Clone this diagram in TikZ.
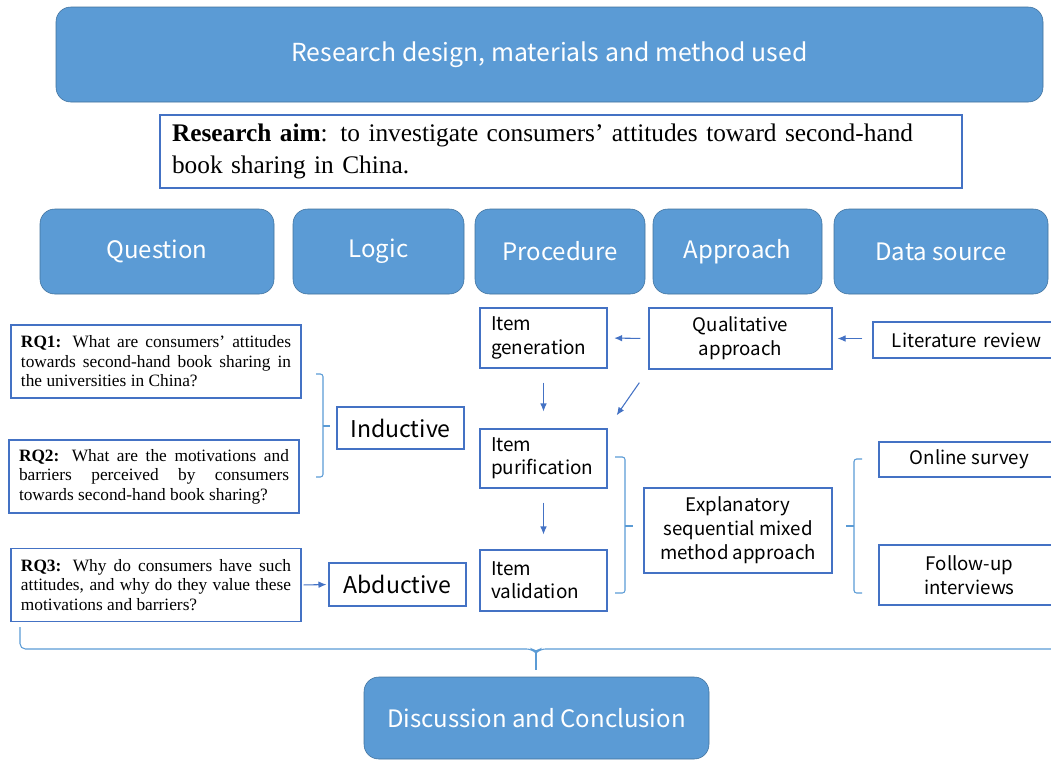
\documentclass[tikz,border=0pt]{standalone}
\usepackage{fontspec}
\setmainfont{Liberation Serif}
\newfontfamily\cnsans{Noto Sans CJK SC}
\usetikzlibrary{arrows.meta}

\definecolor{headfill}{HTML}{5B9BD5}
\definecolor{headline}{HTML}{41719C}
\definecolor{boxline}{HTML}{4472C4}
\newcommand{\pxu}{0.75pt}

\tikzset{
	head/.style={draw=headline, fill=headfill, rounded corners=11pt, text=white, inner sep=0pt,
		font=\cnsans\fontsize{18}{20}\selectfont},
	plain/.style={draw=boxline, fill=white, inner sep=0pt, line width=0.8pt},
	rq/.style={plain, minimum width=290*\pxu, minimum height=73*\pxu, text width=270*\pxu,
		align=justify, font=\fontsize{13}{14.6}\selectfont},
	item/.style={plain, minimum width=127*\pxu, text width=105*\pxu, align=left,
		font=\cnsans\fontsize{14.2}{17.5}\selectfont},
	side/.style={plain, align=center, font=\cnsans\fontsize{14}{18}\selectfont},
	logic/.style={plain, font=\cnsans\fontsize{17.3}{20}\selectfont},
	flow/.style={draw=boxline, line width=0.8pt, -{Latex[length=6pt,width=5pt]}},
	brack/.style={draw=headfill, line width=0.8pt, rounded corners=2pt}
}

\begin{document}
\begin{tikzpicture}[x=0.75pt, y=-0.75pt]
	\useasboundingbox (0,0) rectangle (1051,761);

	% title and aim
	\node[head, minimum width=987*\pxu, minimum height=95*\pxu, font=\cnsans\fontsize{18.6}{20}\selectfont] (design) at (549.5,54.5) {Research design, materials and method used};
	\node[plain, minimum width=802*\pxu, minimum height=73*\pxu, text width=778*\pxu, align=left,
		font=\fontsize{19}{24}\selectfont] (aim) at (561,151.5)
		{\textbf{Research aim}: to investigate consumers’ attitudes toward second-hand\\book sharing in China.};

	% column heads
	\node[head, minimum width=234*\pxu, minimum height=85*\pxu] (question) at (157,251.5) {Question};
	\node[head, minimum width=171*\pxu, minimum height=85*\pxu] (logichd) at (378.5,251.5) {Logic};
	\node[head, minimum width=170*\pxu, minimum height=85*\pxu] (procedure) at (560,251.5) {Procedure};
	\node[head, minimum width=169*\pxu, minimum height=85*\pxu] (approach) at (737.5,251.5) {Approach};
	\node[head, minimum width=214*\pxu, minimum height=85*\pxu] (source) at (941,251.5) {Data source};

	% questions
	\node[rq] (rq1) at (156,361.5) {\textbf{RQ1:} What are consumers’ attitudes\linebreak towards second-hand book sharing in\linebreak the universities in China?};
	\node[rq] (rq2) at (154,476.5) {\textbf{RQ2:} What are the motivations and\linebreak barriers perceived by consumers\linebreak towards second-hand book sharing?};
	\node[rq] (rq3) at (156,585) {\textbf{RQ3:} Why do consumers have such\linebreak attitudes, and why do they value these\linebreak motivations and barriers?};

	% logic
	\node[logic, minimum width=127*\pxu, minimum height=42*\pxu] (ind) at (400.5,428) {Inductive};
	\node[logic, minimum width=137*\pxu, minimum height=43*\pxu] (abd) at (397.5,584.5) {Abductive};

	% procedure
	\node[item, minimum height=60*\pxu] (gen) at (543.5,338) {Item\\generation};
	\node[item, minimum height=59*\pxu] (pur) at (543.5,458.5) {Item\\purification};
	\node[item, minimum height=61*\pxu] (val) at (543.5,580.5) {Item\\validation};

	% approach
	\node[side, minimum width=183*\pxu, minimum height=61*\pxu] (qual) at (740.5,338.5) {Qualitative\\approach};
	\node[side, minimum width=188*\pxu, minimum height=85*\pxu] (expl) at (738,530.5) {Explanatory\\sequential mixed\\method approach};

	% data source
	\node[side, minimum width=187*\pxu, minimum height=36*\pxu, text width=170*\pxu, xshift=-3.5*\pxu] (lit) at (970,340) {Literature review};
	\node[side, minimum width=181*\pxu, minimum height=35*\pxu] (online) at (969.5,459.5) {Online survey};
	\node[side, minimum width=181*\pxu, minimum height=60*\pxu] (follow) at (969.5,575) {Follow-up\\interviews};

	% conclusion
	\node[head, minimum width=345*\pxu, minimum height=82*\pxu] (disc) at (536.5,718) {Discussion and Conclusion};

	% arrows
	\draw[flow, shorten <=1.5pt, shorten >=1.5pt] (rq3.east) -- (abd.west);
	\draw[flow, shorten <=7.5pt, shorten >=3.75pt] (lit.west |- qual.east) -- (qual.east);
	\draw[flow, shorten <=6pt, shorten >=5pt] (qual.west) -- (gen.east);
	\draw[flow, shorten <=10.5pt, shorten >=12.75pt] (gen.south) -- (pur.north);
	\draw[flow, shorten <=10.5pt, shorten >=11.25pt] (pur.south) -- (val.north);
	\draw[flow, shorten <=12pt, shorten >=12pt] (qual.south west) -- (pur.north east);

	% brackets
	\draw[brack] (316,374) -- (323,374) -- (323,477) -- (316,477);
	\draw[brack] (323,426) -- (330,426);
	\draw[brack] (615,457) -- (625,457) -- (625,593) -- (615,593);
	\draw[brack] (625,526) -- (633,526);
	\draw[brack] (862,459) -- (854,459) -- (854,593) -- (862,593);
	\draw[brack] (854,526) -- (846,526);
	\draw[brack, rounded corners=4pt] (20,627) -- (20,649) -- (532,649) -- (536,653) -- (540,649) -- (1060,649);
	\draw[brack] (536,651) -- (536,670);
\end{tikzpicture}
\end{document}
